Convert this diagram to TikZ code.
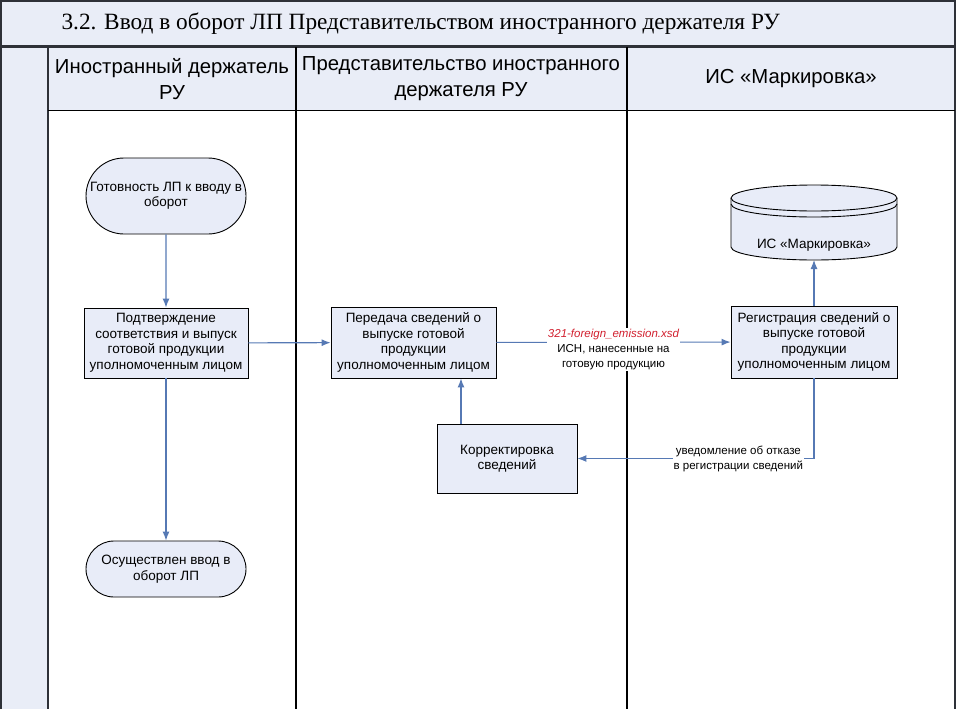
\documentclass[tikz,border=0pt]{standalone}
\usepackage{fontspec}
\setmainfont{Liberation Sans}
\newfontfamily\titlefont{Liberation Serif}
\usepackage{tikz}
\usetikzlibrary{shapes.misc}
\usetikzlibrary{positioning}
\usetikzlibrary{arrows.meta}
\usepackage{xcolor}
\definecolor{bandfill}{HTML}{E9EDF7}
\definecolor{boxfill}{HTML}{E8ECF8}
\definecolor{flowblue}{HTML}{5679B4}
\definecolor{frameline}{HTML}{2E3138}
\definecolor{xsdred}{HTML}{D2202F}
\tikzset{
  procbox/.style={rectangle, draw=black, fill=boxfill, line width=0.9pt, align=center,
    inner sep=2pt, font=\fontsize{13.5}{15.5}\selectfont},
  termbox/.style={rounded rectangle, draw=black, fill=boxfill, line width=0.9pt, align=center,
    inner sep=2pt, minimum width=164pt, font=\fontsize{13.5}{15.5}\selectfont},
  lanehead/.style={align=center, font=\fontsize{20.3}{26}\selectfont},
  flow/.style={draw=flowblue, line width=1.1pt, -{Latex[length=9pt, width=7pt]}},
  flowlabel/.style={fill=white, align=center, inner sep=1pt, font=\fontsize{11.5}{15}\selectfont}
}

\begin{document}
\begin{tikzpicture}[x=1pt, y=-1pt]
    \useasboundingbox (0,0) rectangle (957,709);

    % pool frame and lanes
    \fill[bandfill] (1,1) rectangle (955,47);
    \fill[bandfill] (1,47) rectangle (48,709);
    \fill[bandfill] (48,47) rectangle (955,110);
    \draw[frameline, line width=1.2pt] (1,709) -- (1,1) -- (955,1) -- (955,709);
    \draw[frameline, line width=3pt] (1,47) -- (955,47);
    \draw[frameline, line width=2.5pt] (48,47) -- (48,709);
    \draw[black, line width=1.2pt] (48,110.5) -- (955,110.5);
    \draw[black, line width=1.2pt] (296,47) -- (296,709);
    \draw[black, line width=1.2pt] (627,47) -- (627,709);

    \node[anchor=west, font=\titlefont\fontsize{23.3}{28}\selectfont] (title) at (58,24)
      {3.2. Ввод в оборот ЛП Представительством иностранного держателя РУ};
    \node[lanehead] (holder) at (172,79) {Иностранный держатель\\РУ};
    \node[lanehead] (office) at (461,79) {Представительство иностранного\\держателя РУ};
    \node[lanehead] (mark) at (791,79) {ИС «Маркировка»};

    % database
    \draw[black, line width=0.9pt, fill=boxfill] (731,198) -- (731,247)
      arc[start angle=180, end angle=360, x radius=83pt, y radius=13pt] -- (897,198)
      arc[start angle=0, end angle=180, x radius=83pt, y radius=13pt] -- cycle;
    \draw[black, line width=0.9pt] (731,198) arc[start angle=180, end angle=360, x radius=83pt, y radius=13pt];
    \draw[black, line width=0.9pt] (731,204) arc[start angle=180, end angle=360, x radius=83pt, y radius=13pt];
    \node[font=\fontsize{13.5}{15.5}\selectfont] (isdb) at (814,245) {ИС «Маркировка»};
    \coordinate (dbbase) at (814,260);

    % steps
    \node[termbox, minimum height=76pt] (ready) at (166,196) {Готовность ЛП к вводу в\\оборот};
    \node[procbox, minimum width=164pt, minimum height=70pt] (confirm) at (166,343)
      {Подтверждение\\соответствия и выпуск\\готовой продукции\\уполномоченным лицом};
    \node[termbox, minimum height=56pt] (done) at (166,569) {Осуществлен ввод в\\оборот ЛП};
    \node[procbox, minimum width=165pt, minimum height=71pt] (transfer) at (413.5,342.5)
      {Передача сведений о\\выпуске готовой\\продукции\\уполномоченным лицом};
    \node[procbox, minimum width=140pt, minimum height=69pt] (fix) at (507,458.5)
      {Корректировка\\сведений};
    \node[procbox, minimum width=166pt, minimum height=72pt] (register) at (814,342)
      {Регистрация сведений о\\выпуске готовой\\продукции\\уполномоченным лицом};

    % flows
    \draw[flow] (ready) -- (confirm);
    \draw[flow] (confirm) -- (done);
    \draw[flow] (confirm) -- (transfer);
    \draw[flow] (transfer) -- (register)
      node[flowlabel, midway, yshift=-7pt] {\textcolor{xsdred}{\itshape 321-foreign\_emission.xsd}\\ИСН, нанесенные на\\готовую продукцию};
    \draw[flow] (register) -- (dbbase);
    \draw[flow] (register.south) |- (fix.east)
      node[flowlabel, pos=0.66] {уведомление об отказе\\в регистрации сведений};
    \draw[flow] ([xshift=-46pt]fix.north) -- ([xshift=-46pt]fix.north |- transfer.south);
\end{tikzpicture}
\end{document}
